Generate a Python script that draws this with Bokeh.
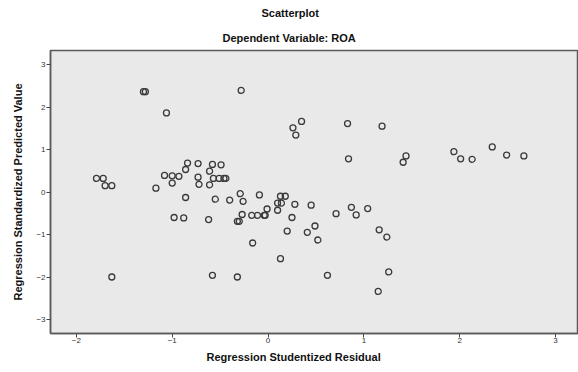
from bokeh.plotting import figure
from bokeh.models import Range1d, FixedTicker, Title
from bokeh.embed import file_html
from bokeh.resources import INLINE

title_main = "Scatterplot"
title_sub = "Dependent Variable: ROA"
x_label = "Regression Studentized Residual"
y_label = "Regression Standardized Predicted Value"

x_ticks = [-2, -1, 0, 1, 2, 3]
y_ticks = [-3, -2, -1, 0, 1, 2, 3]

resid = [
    -1.30, -1.28, -1.06, -0.28, 0.26, 0.29, 0.35,
    -1.79, -1.72, -0.84, -0.73, -0.86, -0.58, -0.49, -0.61,
    -1.08, -1.00, -0.93, -0.73, -0.57, -0.51, -0.46, -0.44,
    -1.70, -1.63, -1.17, -1.00, -0.72, -0.61,
    -0.86, -0.55, -0.40, -0.29, -0.26, -0.09, 0.13, 0.18, 0.10, 0.14,
    0.28, -0.01, 0.10, 0.25, -0.98, -0.88, -0.62, -0.32, -0.30, -0.27,
    -0.17, -0.11, -0.04, -0.03, 0.20, -0.16, 0.13,
    -1.63, -0.58, -0.32,
    0.45, 0.71, 0.87, 0.92, 1.04, 0.49, 0.41, 0.52, 1.16, 1.24,
    0.62, 1.26, 1.15,
    0.83, 1.19, 0.84, 1.44, 1.41, 1.94, 2.01, 2.13, 2.34, 2.49, 2.67,
]
pred = [
    2.37, 2.37, 1.87, 2.40, 1.52, 1.35, 1.67,
    0.33, 0.33, 0.69, 0.68, 0.54, 0.66, 0.65, 0.50,
    0.40, 0.39, 0.38, 0.36, 0.33, 0.33, 0.33, 0.33,
    0.16, 0.16, 0.10, 0.22, 0.19, 0.18,
    -0.12, -0.16, -0.18, -0.03, -0.21, -0.06, -0.09, -0.09, -0.25, -0.25,
    -0.28, -0.39, -0.42, -0.59, -0.59, -0.60, -0.64, -0.68, -0.68, -0.52,
    -0.54, -0.54, -0.54, -0.54, -0.91, -1.19, -1.56,
    -1.99, -1.95, -1.99,
    -0.30, -0.50, -0.35, -0.53, -0.38, -0.79, -0.94, -1.12, -0.88, -1.05,
    -1.95, -1.87, -2.33,
    1.62, 1.56, 0.79, 0.86, 0.71, 0.96, 0.79, 0.78, 1.07, 0.88, 0.86,
]

FONT = "Liberation Sans"

p = figure(width=578, height=372, output_backend="svg", toolbar_location=None,
           x_range=Range1d(-2.27, 3.24), y_range=Range1d(-3.32, 3.34),
           min_border_left=50, min_border_right=0, min_border_top=48,
           min_border_bottom=39, background_fill_color="#e9e9e9",
           border_fill_color="white", outline_line_color="#5a5a5a",
           outline_line_width=1.5)

p.add_layout(Title(text=title_sub, align="left", text_font=FONT,
                   text_font_size="11px", text_font_style="bold",
                   text_color="#111111", offset=172, standoff=14), "above")
p.add_layout(Title(text=title_main, align="left", text_font=FONT,
                   text_font_size="11px", text_font_style="bold",
                   text_color="#111111", offset=211, standoff=8), "above")

p.scatter(resid, pred, marker="circle", size=6, fill_color=None,
          line_color="#3a3a3a", line_width=1.3)

p.xgrid.visible = False
p.ygrid.visible = False

p.xaxis.ticker = FixedTicker(ticks=x_ticks)
p.yaxis.ticker = FixedTicker(ticks=y_ticks)
for ax in (p.xaxis[0], p.yaxis[0]):
    ax.axis_line_color = "#5a5a5a"
    ax.axis_line_width = 1.5
    ax.major_tick_line_color = "#444444"
    ax.major_tick_out = 4
    ax.major_tick_in = 0
    ax.minor_tick_line_color = None
    ax.major_label_text_font = FONT
    ax.major_label_text_font_size = "8px"
    ax.major_label_text_color = "#333333"
    ax.major_label_standoff = 1
    ax.axis_label_text_font = FONT
    ax.axis_label_text_font_size = "11px"
    ax.axis_label_text_font_style = "bold"
    ax.axis_label_text_color = "#111111"

p.xaxis.major_label_standoff = 0
p.yaxis.axis_label = y_label
p.yaxis.axis_label_standoff = 9

p.add_layout(Title(text=x_label, align="left", text_font=FONT,
                   text_font_size="11px", text_font_style="bold",
                   text_color="#111111", offset=156, standoff=6), "below")

open("out.html", "w").write(file_html(p, INLINE))
